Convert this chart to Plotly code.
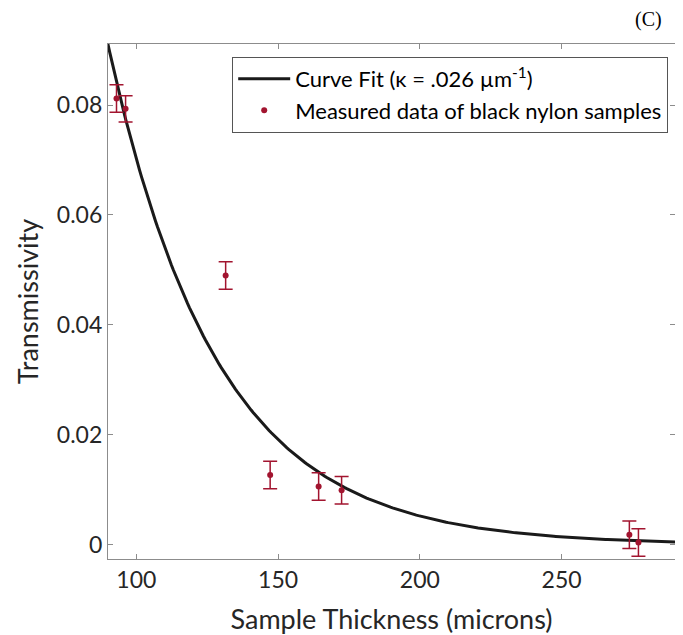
import numpy as np
import plotly.graph_objects as go

thickness = [93.0, 96.2, 131.5, 147.2, 164.3, 172.4, 273.9, 277.1]
transmissivity = [0.0812, 0.0793, 0.0490, 0.0127, 0.0106, 0.0099, 0.0018, 0.0004]
error = [0.0025, 0.0024, 0.0025, 0.0025, 0.0025, 0.0025, 0.0025, 0.0025]

# Curve fit parameters: T = A * exp(-kappa * x)
kappa = 0.026
amplitude = 0.945
fit_x = np.linspace(85, 295, 300)
fit_y = amplitude * np.exp(-kappa * fit_x)

x_ticks = [100, 150, 200, 250]
y_ticks = [0, 0.02, 0.04, 0.06, 0.08]
y_ticklabels = ["0", "0.02", "0.04", "0.06", "0.08"]

FONT = "Lato"
RED = "#A2142F"

fig = go.Figure()
fig.add_trace(go.Scatter(
    x=fit_x, y=fit_y, mode="lines",
    line=dict(color="#1a1a1a", width=3),
    name="Curve Fit (κ = .026 µm<sup>-1</sup>)",
))
fig.add_trace(go.Scatter(
    x=thickness, y=transmissivity, mode="markers",
    marker=dict(color=RED, size=6),
    error_y=dict(type="data", array=error, color=RED, thickness=1.5, width=7),
    name="Measured data of black nylon samples",
))

axis_common = dict(
    showline=True, linecolor="#8c8c8c", linewidth=1.2, mirror="ticks",
    ticks="inside", ticklen=5, tickcolor="#8c8c8c",
    showgrid=False, zeroline=False, automargin=False,
    tickfont=dict(family=FONT, size=23, color="#262626"),
    title_font=dict(family=FONT, size=27, color="#262626"),
)
fig.update_xaxes(range=[90, 290], tickvals=x_ticks,
                 title_text="Sample Thickness (microns)", title_standoff=18, **axis_common)
fig.update_yaxes(range=[-0.0026, 0.0911], tickvals=y_ticks, ticktext=y_ticklabels,
                 title_text="Transmissivity", title_standoff=10, **axis_common)

fig.add_annotation(text="(C)", xref="paper", yref="paper", x=0.953, y=1.047,
                   xanchor="center", yanchor="middle", showarrow=False,
                   font=dict(family="Liberation Serif", size=20, color="black"))

fig.update_layout(
    width=675, height=627,
    margin=dict(l=100, r=8, t=36, b=76),
    plot_bgcolor="white", paper_bgcolor="white",
    legend=dict(x=0.988, y=0.975, xanchor="right", yanchor="top",
                bgcolor="white", bordercolor="#555555", borderwidth=1,
                font=dict(family=FONT, size=22, color="black"),
                itemwidth=52, tracegroupgap=2),
    showlegend=True,
)

fig.write_html("out.html")
